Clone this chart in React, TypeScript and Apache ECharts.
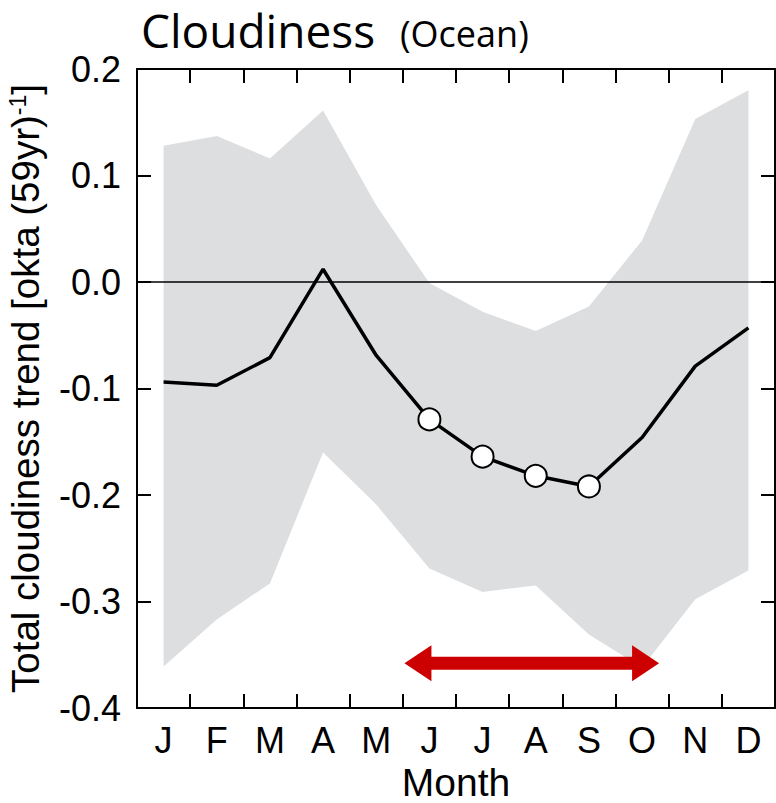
import React, { useEffect, useRef } from "react";
import * as echarts from "echarts";

const months = ["J", "F", "M", "A", "M", "J", "J", "A", "S", "O", "N", "D"];
const trend = [-0.094, -0.097, -0.071, 0.012, -0.069, -0.129, -0.164, -0.182, -0.192, -0.146, -0.079, -0.043];
const upper = [0.128, 0.137, 0.116, 0.161, 0.072, -0.001, -0.028, -0.046, -0.023, 0.039, 0.153, 0.18];
const lower = [-0.361, -0.317, -0.283, -0.16, -0.209, -0.269, -0.291, -0.285, -0.331, -0.362, -0.298, -0.271];
const markedMonths = [5, 6, 7, 8];
const arrowSpan = [4.53, 9.32, -0.358];
const yTicks = { min: -0.4, max: 0.2, interval: 0.1 };

export default function App() {
  const ref = useRef<HTMLDivElement>(null);
  useEffect(() => {
    if (!ref.current) return;
    document.body.style.margin = "0";
    const chart = echarts.init(ref.current, null, { renderer: "svg" });
    const axisFont = "'Liberation Sans', Arial, Helvetica, sans-serif";
    const bandWidth = upper.map((u, i) => +(u - lower[i]).toFixed(4));
    const lineData = trend.map((v, i) =>
      markedMonths.includes(i)
        ? { value: v, symbol: "circle", symbolSize: 22, itemStyle: { color: "#fff", borderColor: "#000", borderWidth: 2 } }
        : { value: v, symbol: "none" }
    );
    const commonTick = { show: true, inside: true, length: 14, lineStyle: { color: "#000", width: 2 } };
    const commonLine = { show: true, onZero: false, lineStyle: { color: "#000", width: 2 } };
    chart.setOption({
      animation: false,
      backgroundColor: "#fff",
      graphic: [
        {
          type: "text",
          left: 141,
          top: 7,
          style: { text: "Cloudiness", font: "46px 'Open Sans', sans-serif", fill: "#000" },
        },
        {
          type: "text",
          left: 400,
          top: 15,
          style: { text: "(Ocean)", font: "36px 'Open Sans', sans-serif", fill: "#000" },
        },
      ],
      grid: { left: 137, right: 1, top: 69, bottom: 95, outerBoundsMode: "none" },
      xAxis: [
        {
          type: "category",
          data: months,
          position: "bottom",
          axisLine: commonLine,
          axisTick: commonTick,
          axisLabel: { color: "#000", fontSize: 36, fontFamily: axisFont, margin: 14 },
          name: "Month",
          nameLocation: "middle",
          nameGap: 54,
          nameTextStyle: { color: "#000", fontSize: 39, fontFamily: axisFont },
          splitLine: { show: false },
        },
        {
          type: "category",
          data: months,
          position: "top",
          axisLine: commonLine,
          axisTick: commonTick,
          axisLabel: { show: false },
          splitLine: { show: false },
        },
        { type: "value", min: -0.5, max: 11.5, show: false },
      ],
      yAxis: [
        {
          type: "value",
          min: yTicks.min,
          max: yTicks.max,
          interval: yTicks.interval,
          position: "left",
          axisLine: commonLine,
          axisTick: commonTick,
          splitLine: { show: false },
          axisLabel: {
            color: "#000",
            fontSize: 36,
            fontFamily: axisFont,
            margin: 16,
            formatter: (v: number) => (Math.abs(v) < 1e-9 ? "0.0" : v.toFixed(1)),
          },
          name: "{a|Total cloudiness trend [okta (59yr)}{s|-1}{a|]}",
          nameLocation: "middle",
          nameGap: 92,
          nameTextStyle: {
            color: "#000",
            fontFamily: axisFont,
            rich: {
              a: { fontSize: 38.5, fontFamily: axisFont, color: "#000" },
              s: { fontSize: 23, fontFamily: axisFont, color: "#000", verticalAlign: "top" },
            },
          },
        },
        {
          type: "value",
          min: yTicks.min,
          max: yTicks.max,
          interval: yTicks.interval,
          position: "right",
          axisLine: commonLine,
          axisTick: commonTick,
          axisLabel: { show: false },
          splitLine: { show: false },
        },
      ],
      series: [
        {
          type: "line",
          name: "lower",
          data: lower,
          stack: "band",
          stackStrategy: "all",
          symbol: "none",
          lineStyle: { opacity: 0, width: 0 },
          silent: true,
        },
        {
          type: "line",
          name: "band",
          data: bandWidth,
          stack: "band",
          stackStrategy: "all",
          symbol: "none",
          lineStyle: { opacity: 0, width: 0 },
          areaStyle: { color: "#dddee0", opacity: 1 },
          silent: true,
        },
        {
          type: "line",
          name: "trend",
          data: lineData,
          lineStyle: { color: "#000", width: 3.5 },
          itemStyle: { color: "#000" },
          showSymbol: true,
          z: 5,
          markLine: {
            silent: true,
            symbol: ["none", "none"],
            label: { show: false },
            lineStyle: { color: "#000", width: 1.5, type: "solid" },
            data: [{ yAxis: 0 }],
          },
        },
        {
          type: "custom",
          xAxisIndex: 2,
          yAxisIndex: 0,
          data: [arrowSpan],
          z: 6,
          renderItem: (params: any, api: any) => {
            const s = api.coord([api.value(0), api.value(2)]);
            const e = api.coord([api.value(1), api.value(2)]);
            const hl = 27, hh = 18, sh = 6.5;
            const points = [
              [s[0], s[1]],
              [s[0] + hl, s[1] - hh],
              [s[0] + hl, s[1] - sh],
              [e[0] - hl, e[1] - sh],
              [e[0] - hl, e[1] - hh],
              [e[0], e[1]],
              [e[0] - hl, e[1] + hh],
              [e[0] - hl, e[1] + sh],
              [s[0] + hl, s[1] + sh],
              [s[0] + hl, s[1] + hh],
            ];
            return { type: "polygon", shape: { points }, style: { fill: "#cc0000" } };
          },
        },
      ],
    });
    return () => chart.dispose();
  }, []);
  return <div ref={ref} style={{ position: "fixed", left: 0, top: 0, width: 776, height: 803 }} />;
}
